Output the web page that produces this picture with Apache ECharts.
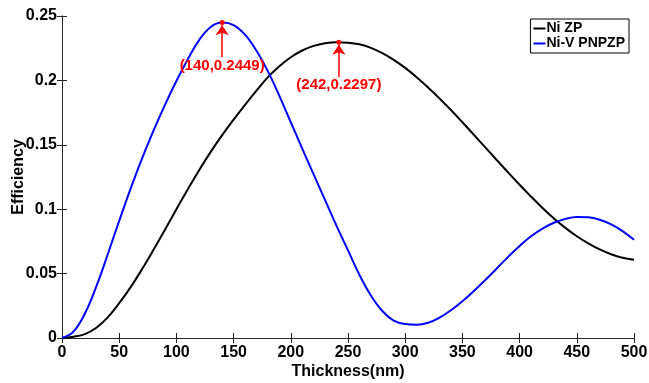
<!DOCTYPE html>
<html>
<head>
<meta charset="utf-8">
<script src="https://cdn.jsdelivr.net/npm/echarts@6/dist/echarts.min.js"></script>
<style>
  html, body { margin: 0; padding: 0; background: #fff; }
  #chart { width: 649px; height: 383px; }
</style>
</head>
<body>
<div id="chart"></div>
<script>
const thickness = [0, 10, 20, 30, 40, 50, 60, 70, 80, 90, 100, 110, 120, 130, 140, 150, 160, 170, 180, 190,
  200, 210, 220, 230, 240, 250, 260, 270, 280, 290, 300, 310, 320, 330, 340, 350, 360, 370, 380, 390,
  400, 410, 420, 430, 440, 450, 460, 470, 480, 490, 500];
const niZP = [0, 0.001, 0.003, 0.008, 0.016, 0.027, 0.0395, 0.0535, 0.0685, 0.084, 0.100, 0.1155, 0.1305, 0.1445, 0.1575,
  0.1695, 0.181, 0.192, 0.2025, 0.211, 0.218, 0.2232, 0.2268, 0.2289, 0.2297, 0.2293, 0.228, 0.2253, 0.2212, 0.216,
  0.2097, 0.2025, 0.1945, 0.186, 0.177, 0.1675, 0.1578, 0.148, 0.1382, 0.1285, 0.119, 0.1098, 0.101, 0.0928, 0.0855,
  0.079, 0.0735, 0.0688, 0.065, 0.0623, 0.0607];
const niVPNPZP = [0, 0.005, 0.019, 0.040, 0.065, 0.091, 0.116, 0.1395, 0.161, 0.181, 0.1995, 0.2165, 0.2315, 0.2415, 0.2449,
  0.243, 0.2355, 0.223, 0.207, 0.188, 0.1675, 0.147, 0.127, 0.107, 0.087, 0.068, 0.049, 0.033, 0.021, 0.0135,
  0.0108, 0.0103, 0.0118, 0.0158, 0.0215, 0.0285, 0.0365, 0.045, 0.054, 0.063, 0.0715, 0.079, 0.085, 0.0895, 0.0925,
  0.094, 0.0937, 0.0918, 0.0882, 0.083, 0.0762];
// peak annotations: [blue, black]
const peakX = [140, 242];
const peakY = [0.2449, 0.2297];
const seriesNames = ['Ni ZP', 'Ni-V PNPZP'];

const font = 'Liberation Sans, Arial, sans-serif';
const axisColor = '#262626';

const pairs = (ys) => thickness.map((x, i) => [x, ys[i]]);

const peakMark = (i) => ({
  symbol: 'circle',
  symbolSize: 5,
  itemStyle: { color: '#ff0000' },
  label: {
    show: true,
    position: 'bottom',
    distance: 33,
    color: '#ff0000',
    fontFamily: font,
    fontWeight: 'bold',
    fontSize: 15,
    formatter: '(' + peakX[i] + ',' + peakY[i] + ')'
  },
  data: [{ coord: [peakX[i], peakY[i]] }]
});

const peakArrow = (i) => ({
  symbol: ['none', 'arrow'],
  symbolSize: 10,
  silent: true,
  label: { show: false },
  lineStyle: { color: '#ff0000', width: 1.5, type: 'solid' },
  data: [[{ coord: [peakX[i], peakY[i] - 0.027] }, { coord: [peakX[i], peakY[i] - 0.002] }]]
});

const chart = echarts.init(document.getElementById('chart'));
chart.setOption({
  animation: false,
  backgroundColor: '#fff',
  grid: { left: 62, right: 15, top: 16, bottom: 45, containLabel: false, outerBoundsMode: 'none' },
  legend: {
    data: seriesNames,
    orient: 'vertical',
    right: 20,
    top: 19,
    borderColor: '#000',
    borderWidth: 1,
    padding: [2, 4, 2, 3],
    itemGap: 0,
    icon: 'rect',
    itemWidth: 12,
    itemHeight: 2,
    textStyle: { color: '#000', fontFamily: font, fontWeight: 'bold', fontSize: 14, padding: [0, 0, 0, -4], lineHeight: 15 }
  },
  xAxis: [{
    type: 'value', min: 0, max: 500, interval: 50,
    name: 'Thickness(nm)', nameLocation: 'middle', nameGap: 26, nameMoveOverlap: false,
    nameTextStyle: { color: '#000', fontFamily: font, fontWeight: 'bold', fontSize: 16 },
    axisLine: { lineStyle: { color: axisColor, width: 1 } },
    axisTick: { inside: true, length: 5, lineStyle: { color: axisColor } },
    axisLabel: { color: '#000', fontFamily: font, fontWeight: 'bold', fontSize: 16, margin: 7 },
    splitLine: { show: false }
  }, {
    type: 'value', min: 0, max: 500, interval: 50, position: 'top',
    axisLine: { show: true, lineStyle: { color: axisColor, width: 1 } },
    axisTick: { inside: true, length: 5, lineStyle: { color: axisColor } },
    axisLabel: { show: false },
    splitLine: { show: false }
  }],
  yAxis: [{
    type: 'value', min: 0, max: 0.25, interval: 0.05,
    name: 'Efficiency', nameLocation: 'middle', nameGap: 35, nameMoveOverlap: false,
    nameTextStyle: { color: '#000', fontFamily: font, fontWeight: 'bold', fontSize: 16 },
    axisLine: { show: true, lineStyle: { color: axisColor, width: 1 } },
    axisTick: { show: true, inside: true, length: 5, lineStyle: { color: axisColor } },
    axisLabel: { color: '#000', fontFamily: font, fontWeight: 'bold', fontSize: 16, margin: 5 },
    splitLine: { show: false }
  }, {
    type: 'value', min: 0, max: 0.25, interval: 0.05, position: 'right',
    axisLine: { show: true, lineStyle: { color: axisColor, width: 1 } },
    axisTick: { show: true, inside: true, length: 5, lineStyle: { color: axisColor } },
    axisLabel: { show: false },
    splitLine: { show: false }
  }],
  series: [{
    name: seriesNames[0],
    type: 'line',
    data: pairs(niZP),
    smooth: 0.4,
    symbol: 'none',
    lineStyle: { color: '#000', width: 2 },
    itemStyle: { color: '#000' },
    z: 2,
    markPoint: peakMark(1),
    markLine: peakArrow(1)
  }, {
    name: seriesNames[1],
    type: 'line',
    data: pairs(niVPNPZP),
    smooth: 0.4,
    symbol: 'none',
    lineStyle: { color: '#0000ff', width: 2 },
    itemStyle: { color: '#0000ff' },
    z: 3,
    markPoint: peakMark(0),
    markLine: peakArrow(0)
  }]
});
</script>
</body>
</html>
